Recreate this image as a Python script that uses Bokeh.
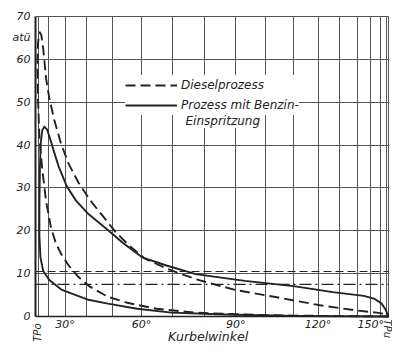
import math
from bokeh.plotting import figure
from bokeh.models import Range1d, FixedTicker, Label, Legend, LegendItem, Grid
from bokeh.embed import file_html
from bokeh.resources import INLINE

# ---------------- data ----------------
y_ticks = [0, 10, 20, 30, 40, 50, 60, 70]
unit_label_pos = 65
unit_label = "atü"
x_tick_angles = [30, 60, 90, 120, 150]
x_tick_labels = ["30°", "60°", "90°", "120°", "150°"]
grid_angles = [10, 20, 30, 40, 50, 60, 70, 80, 90, 100, 110, 120, 130, 140, 150, 160, 170, 180]
dead_centre_labels = ["TPo", "TPu"]
x_title = "Kurbelwinkel"
rod_ratio = 0.27  # crank radius / connecting rod length

# piston stroke in % of full stroke (TPo = 0, TPu = 100), pressure in atü
diesel_stroke = [100, 73.1, 59.3, 45.4, 34.3, 26.0, 20.5, 15.5, 12.2, 9.4, 7.2, 5.8, 4.4, 3.0, 1.9,
                 1.1, 0.7, 0.55, 0.7, 1.0, 1.25,
                 1.66, 2.2, 3.0, 3.9, 5.3, 7.2, 9.4, 12.2, 15.5, 19.1, 22.7, 26.6, 31.0, 37.1,
                 45.4, 56.5, 67.6, 81.4, 91.1, 96.7, 100]
diesel_p = [0.0, 0.2, 0.45, 0.9, 1.8, 3.2, 4.6, 6.9, 9.2, 11.9, 14.7, 17.0, 20.7, 26.9, 34.4,
            41.8, 51.0, 59.0, 63.6, 65.9, 66.3,
            65.6, 62.4, 55.5, 51.0, 45.9, 40.4, 35.6, 31.2, 27.1, 23.4, 19.7, 16.5, 13.5, 11.2,
            8.7, 6.2, 4.6, 2.5, 1.4, 0.9, 0.45]

benzin_stroke = [100, 73.1, 53.7, 38.5, 28.8, 20.5, 15.0, 7.5, 3.9, 2.2, 1.4, 1.1, 1.1, 1.25, 1.5, 1.9, 2.5,
                 3.3, 4.2, 5.3, 6.6, 8.9, 11.6, 15.0, 20.5, 24.7, 30.2, 37.1, 45.4, 59.3, 73.1,
                 84.2, 93.0, 96.1, 98.1, 99.2, 100]
benzin_p = [0.0, 0.1, 0.45, 0.9, 1.8, 3.0, 3.9, 6.2, 8.5, 10.6, 13.8, 18.8, 25.7, 34.9, 40.6, 43.4, 44.3,
            43.6, 41.3, 38.3, 34.9, 30.3, 26.9, 23.9, 20.2, 17.2, 13.8, 11.9, 9.9, 8.3, 7.1,
            5.7, 4.8, 4.1, 3.0, 1.6, 0.0]

mean_p_diesel = 10.5
mean_p_benzin = 7.5

legend_labels = ["Dieselprozess", "Prozess mit Benzin-", "Einspritzung"]


def stroke_pct(deg):
    t = math.radians(deg)
    return round(100 * (1 - math.cos(t) + rod_ratio / 2 * math.sin(t) ** 2) / 2, 3)


INK = "#222222"
GRID = "#555555"
FONT = "DejaVu Sans"

W, H = 392, 344
# chart region inside the canvas (pixels from the canvas' top-left corner)
LEFT, RIGHT, TOP, BOTTOM = 35, 388, 16, 316
X0, X1 = 0, 100
Y0, Y1 = min(y_ticks), max(y_ticks)
xpp = (RIGHT - LEFT) / (X1 - X0)
ypp = (BOTTOM - TOP) / (Y1 - Y0)
x_range = Range1d(X0 - LEFT / xpp, X1 + (W - RIGHT) / xpp)
y_range = Range1d(Y0 - (H - BOTTOM) / ypp, Y1 + TOP / ypp)

p = figure(width=W, height=H, x_range=x_range, y_range=y_range,
           output_backend="svg", toolbar_location=None,
           min_border_left=0, min_border_right=0, min_border_top=0, min_border_bottom=0,
           background_fill_color="white", border_fill_color="white")
p.outline_line_color = None

# axes drawn at the chart origin
tick_pos = [stroke_pct(a) for a in x_tick_angles]
p.xaxis.fixed_location = Y0
p.yaxis.fixed_location = X0
p.xaxis.bounds = (X0, X1)
p.yaxis.bounds = (Y0, Y1)
p.xaxis.ticker = FixedTicker(ticks=tick_pos)
p.xaxis.major_label_overrides = {tp: lab for tp, lab in zip(tick_pos, x_tick_labels)}
p.yaxis.ticker = FixedTicker(ticks=y_ticks + [unit_label_pos])
p.yaxis.major_label_overrides = {unit_label_pos: unit_label}
for ax in (p.xaxis[0], p.yaxis[0]):
    ax.major_tick_line_color = None
    ax.minor_tick_line_color = None
    ax.major_tick_out = 0
    ax.major_tick_in = 0
    ax.minor_tick_out = 0
    ax.minor_tick_in = 0
    ax.axis_line_color = INK
    ax.major_label_text_font = FONT
    ax.major_label_text_font_style = "italic"
    ax.major_label_text_font_size = "11px"
    ax.major_label_text_color = INK
p.yaxis.axis_line_width = 2
p.xaxis.axis_line_width = 1.5
p.yaxis.major_label_standoff = 5
p.xaxis.major_label_standoff = 1

# grids, limited to the chart region
grid_x = [stroke_pct(a) for a in grid_angles]
if "cross_bounds" in Grid.properties():
    p.ygrid.ticker = FixedTicker(ticks=y_ticks)
    p.xgrid.ticker = FixedTicker(ticks=grid_x)
    p.ygrid.cross_bounds = (X0, X1)
    p.xgrid.cross_bounds = (Y0, Y1)
    for g in (p.xgrid, p.ygrid):
        g.grid_line_color = GRID
        g.grid_line_width = 1
else:
    p.xgrid.visible = False
    p.ygrid.visible = False
    p.segment(x0=grid_x, y0=[Y0] * len(grid_x), x1=grid_x, y1=[Y1] * len(grid_x),
              line_color=GRID, line_width=1)
    p.segment(x0=[X0] * len(y_ticks), y0=y_ticks, x1=[X1] * len(y_ticks), y1=y_ticks,
              line_color=GRID, line_width=1)

# mean pressure lines
p.line([X0, X1], [mean_p_diesel, mean_p_diesel], line_color=INK, line_width=1.2, line_dash="8 4")
p.line([X0, X1], [mean_p_benzin, mean_p_benzin], line_color=INK, line_width=1.2,
       line_dash="12 4 2 4")

# curves
rd = p.line(diesel_stroke, diesel_p, line_color=INK, line_width=1.9, line_dash="10 5",
            line_join="round")
rb = p.line(benzin_stroke, benzin_p, line_color=INK, line_width=1.9, line_join="round")

legend = Legend(items=[LegendItem(label=legend_labels[0], renderers=[rd]),
                       LegendItem(label=legend_labels[1], renderers=[rb])],
                location=(125, 229), padding=4, margin=0, spacing=0,
                glyph_width=52, glyph_height=20, label_height=20, label_standoff=4,
                label_text_font=FONT, label_text_font_style="italic",
                label_text_font_size="12px", label_text_color=INK,
                background_fill_color="white", background_fill_alpha=1,
                border_line_color=None)
p.add_layout(legend)

p.add_layout(Label(x=42.5, y=45.6, text=legend_labels[2], text_font=FONT,
                   text_font_style="italic", text_font_size="12px", text_color=INK,
                   text_align="left", text_baseline="middle",
                   background_fill_color="white", background_fill_alpha=1))

# x axis title
p.add_layout(Label(x=48.9, y=Y0, y_offset=-27, text=x_title, text_font=FONT,
                   text_font_style="italic", text_font_size="12.5px", text_color=INK,
                   text_align="center", text_baseline="bottom"))

# dead centre labels
p.add_layout(Label(x=X0, y=Y0, x_offset=2, y_offset=-7, text=dead_centre_labels[0],
                   angle=math.pi / 2, text_font=FONT, text_font_style="italic",
                   text_font_size="10px", text_color=INK, text_align="right",
                   text_baseline="middle"))
p.add_layout(Label(x=X1, y=Y0, x_offset=-1, y_offset=-3, text=dead_centre_labels[1],
                   angle=-math.pi / 2, text_font=FONT, text_font_style="italic",
                   text_font_size="10px", text_color=INK, text_align="left",
                   text_baseline="middle"))

open("out.html", "w").write(file_html(p, INLINE))
